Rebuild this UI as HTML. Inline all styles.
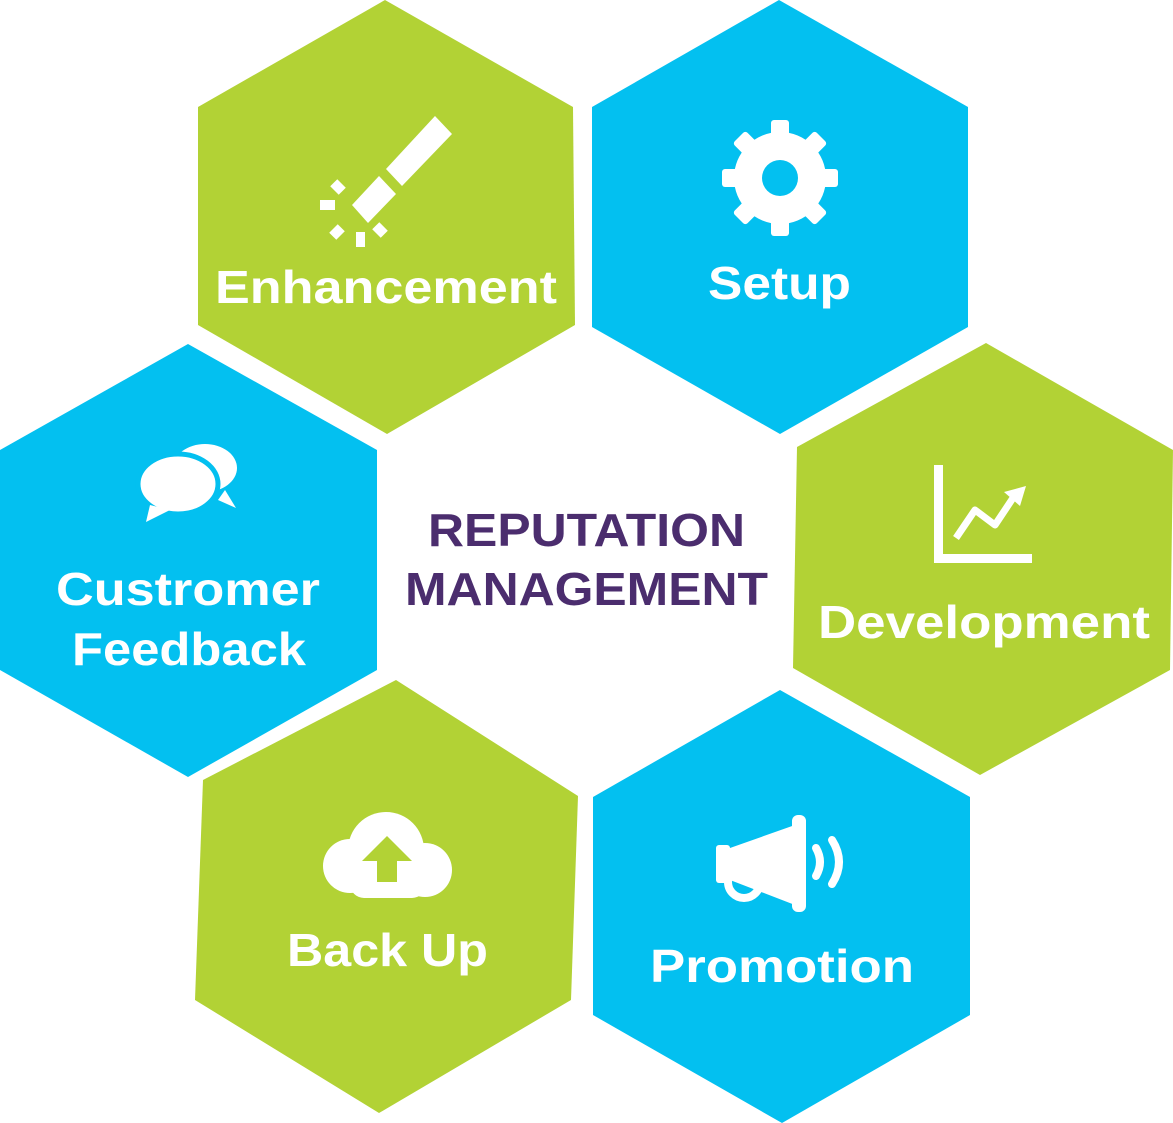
<!DOCTYPE html>
<html><head><meta charset="utf-8"><style>html,body{margin:0;padding:0;background:#fff}svg{display:block}</style></head>
<body>
<svg width="1173" height="1123" viewBox="0 0 1173 1123" xmlns="http://www.w3.org/2000/svg" font-family="'Liberation Sans', sans-serif" font-weight="bold">
<g>
<polygon fill="#b2d235" points="385,0 573,107 575,325 387,434 198,325 198,107"/>
<polygon fill="#03c0f0" points="779,0 968,107 968,327 780,434 592,327 592,107"/>
<polygon fill="#03c0f0" points="188,344 377,450 377,670 188,777 0,670 0,450"/>
<polygon fill="#b2d235" points="986,343 1173,450 1170,670 980,775 793,668 797,447"/>
<polygon fill="#b2d235" points="396,680 578,796 571,1000 379,1113 195,1000 203,780"/>
<polygon fill="#03c0f0" points="780,690 970,797 970,1015 782,1123 593,1015 593,797"/>
</g>
<g fill="#fff">
<!-- pen -->
<polygon points="435,116 452,134 402,186 386,169"/>
<polygon points="379,176 396,194 368,223 352,205"/>
<rect x="320" y="200" width="15" height="10"/>
<rect x="333" y="181" width="10" height="12" transform="rotate(-45 338 187)"/>
<rect x="332" y="226" width="10" height="12" transform="rotate(45 337 232)"/>
<rect x="375" y="224" width="10" height="12" transform="rotate(-45 380 230)"/>
<rect x="356" y="232" width="9" height="15"/>
<!-- gear -->
<g transform="translate(780,178)">
<circle r="46"/>
<rect x="-9" y="-58" width="18" height="116" rx="3"/>
<rect x="-9" y="-58" width="18" height="116" rx="3" transform="rotate(45)"/>
<rect x="-9" y="-58" width="18" height="116" rx="3" transform="rotate(90)"/>
<rect x="-9" y="-58" width="18" height="116" rx="3" transform="rotate(135)"/>
<circle r="18" fill="#03c0f0"/>
</g>
<!-- chat -->
<ellipse cx="205" cy="468" rx="32" ry="24"/>
<ellipse cx="178" cy="484" rx="40" ry="30" stroke="#03c0f0" stroke-width="5"/>
<polygon points="150,505 146,522 170,510"/>
<polygon points="225,490 236,508 218,500"/>
<!-- chart -->
<rect x="934" y="465" width="9" height="98"/>
<rect x="934" y="554" width="98" height="9"/>
<polyline points="956,538 975,510 995,525 1015,495" fill="none" stroke="#fff" stroke-width="7" stroke-linejoin="round"/>
<polygon points="1004,492 1026,486 1020,506"/>
<!-- cloud -->
<circle cx="386" cy="850" r="38"/>
<circle cx="350" cy="866" r="27"/>
<circle cx="425" cy="870" r="27"/>
<rect x="350" y="860" width="76" height="38" rx="14"/>
<polygon fill="#b2d235" points="387,836 412,861 397,861 397,882 377,882 377,861 362,861"/>
<!-- megaphone -->
<rect x="716" y="845" width="14" height="38" rx="3"/>
<polygon points="730,848 795,825 795,905 730,880"/>
<rect x="792" y="815" width="14" height="97" rx="6"/>
<circle cx="744" cy="882" r="16" fill="none" stroke="#fff" stroke-width="8"/>
<path d="M816,848 Q824,862 816,876" fill="none" stroke="#fff" stroke-width="8" stroke-linecap="round"/>
<path d="M832,840 Q846,862 832,884" fill="none" stroke="#fff" stroke-width="8" stroke-linecap="round"/>
</g>
<g fill="#fff" font-size="46">
<text x="215" y="303" textLength="342" lengthAdjust="spacingAndGlyphs">Enhancement</text>
<text x="708" y="299" textLength="143" lengthAdjust="spacingAndGlyphs">Setup</text>
<text x="56" y="605" textLength="264" lengthAdjust="spacingAndGlyphs">Custromer</text>
<text x="72" y="665" textLength="234" lengthAdjust="spacingAndGlyphs">Feedback</text>
<text x="818" y="638" textLength="332" lengthAdjust="spacingAndGlyphs">Development</text>
<text x="287" y="966" textLength="201" lengthAdjust="spacingAndGlyphs">Back Up</text>
<text x="650" y="982" textLength="264" lengthAdjust="spacingAndGlyphs">Promotion</text>
</g>
<g fill="#4b2d6e" font-size="46">
<text x="428" y="546" textLength="317" lengthAdjust="spacingAndGlyphs">REPUTATION</text>
<text x="405" y="605" textLength="363" lengthAdjust="spacingAndGlyphs">MANAGEMENT</text>
</g>
</svg>
</body></html>
